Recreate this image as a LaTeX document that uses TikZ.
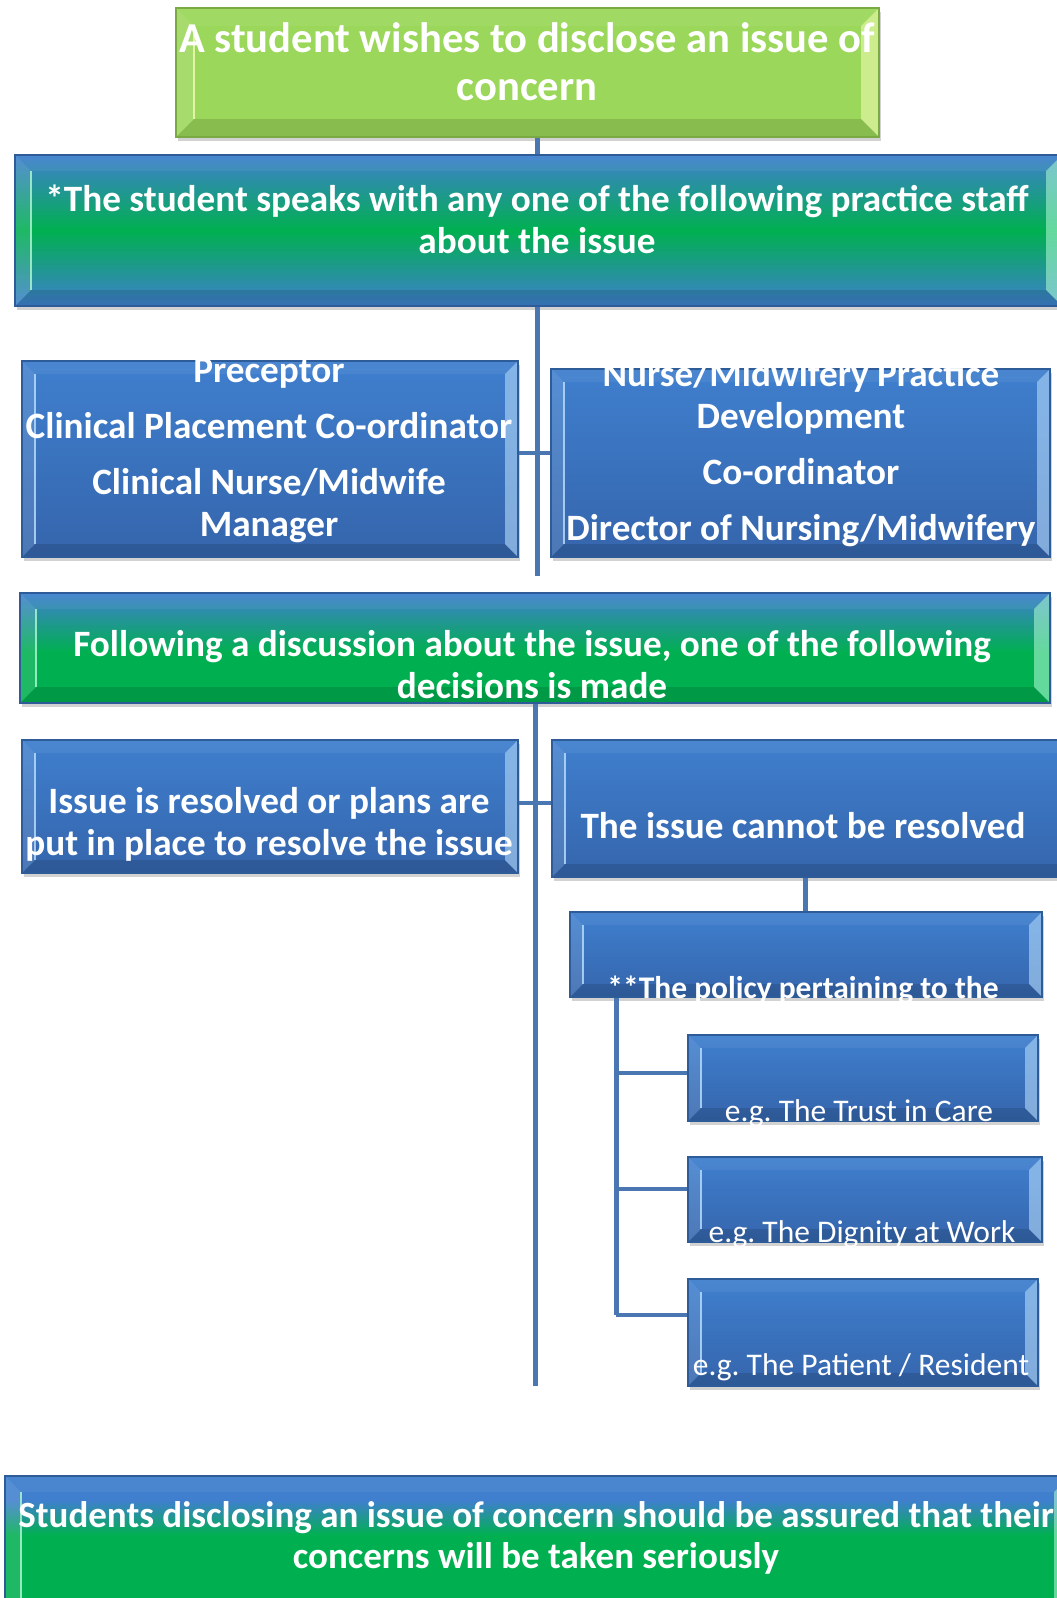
\documentclass[tikz,border=0pt]{standalone}
\usepackage{fontspec}
\setmainfont{Carlito}
\usetikzlibrary{shadows,calc}
\definecolor{cBlueT}{HTML}{3F7FCE}
\definecolor{cBlueB}{HTML}{3565AC}
\definecolor{cBlueEdge}{HTML}{2E5C99}
\definecolor{cBlueLight}{HTML}{B4DAFA}
\definecolor{cGreen}{HTML}{00B050}
\definecolor{cLime}{HTML}{9BD75A}
\definecolor{cLimeEdge}{HTML}{7BAA45}
\definecolor{cLimeLight}{HTML}{EEFAB0}
\definecolor{cGreenLight}{HTML}{A8F5D0}
\definecolor{cLine}{HTML}{4A76B2}
\pgfdeclareverticalshading{shTopBlue}{100bp}{color(0bp)=(cGreen); color(48bp)=(cGreen); color(75bp)=(cBlueT); color(100bp)=(cBlueT)}
\pgfdeclareverticalshading{shBottomBox}{100bp}{color(0bp)=(cGreen); color(58bp)=(cGreen); color(68bp)=(cBlueT); color(100bp)=(cBlueT)}
\pgfdeclareverticalshading{shMidGreen}{100bp}{color(0bp)=(cBlueT); color(25bp)=(cBlueT); color(50bp)=(cGreen); color(75bp)=(cBlueT); color(100bp)=(cBlueT)}
\tikzset{
  bev/.style n args={2}{path picture={
    \path (path picture bounding box.south west) coordinate (bSW)
          (path picture bounding box.north east) coordinate (bNE);
    \path (bSW |- bNE) coordinate (bNW) (bSW -| bNE) coordinate (bSE);
    \fill[white,opacity=0.12] (bSW) -- (bNW) -- ($(bNW)+(#2,-#2)$) -- ($(bSW)+(#2,#2)$) -- cycle;
    \draw[#1,line width=2.5pt,opacity=0.85] ($(bSW)+(#2,#2)$) -- ($(bNW)+(#2,-#2)$);
    \fill[#1,opacity=0.6] (bNE) -- (bSE) -- ($(bSE)+(-#2,#2)$) -- ($(bNE)+(-#2,-#2)$) -- cycle;
    \fill[black,opacity=0.12] (bSW) -- (bSE) -- ($(bSE)+(-#2,#2)$) -- ($(bSW)+(#2,#2)$) -- cycle;
    \fill[white,opacity=0.06] (bNE) -- (bNW) -- ($(bNW)+(#2,-#2)$) -- ($(bNE)+(-#2,-#2)$) -- cycle;
  }},
  shadowed/.style={drop shadow={shadow xshift=2pt,shadow yshift=-4pt,opacity=0.35}},
  boxbase/.style={rectangle,inner sep=0pt,line width=1.2pt,shadowed},
  bluebox/.style={boxbase,draw=cBlueEdge,top color=cBlueT,bottom color=cBlueB,bev={cBlueLight}{13pt}},
  limebox/.style={boxbase,draw=cLimeEdge,fill=cLime,bev={cLimeLight}{18pt}},
  gbbox/.style={boxbase,draw=cBlueEdge,shade,shading=shMidGreen,bev={cGreenLight}{16pt}},
  gtbox/.style={boxbase,draw=cBlueEdge,shade,shading=shTopBlue,bev={cGreenLight}{16pt}},
  gfbox/.style={boxbase,draw=cBlueEdge,shade,shading=shBottomBox,bev={cGreenLight}{16pt}},
  txt/.style={text=white,align=center,inner sep=0pt,font=\bfseries\fontsize{37.2pt}{42pt}\selectfont},
  subtxt/.style={text=white,align=center,inner sep=0pt,font=\fontsize{31.5pt}{36pt}\selectfont},
  conn/.style={draw=cLine,line width=5pt},
  stub/.style={draw=cLine,line width=4pt},
}
\begin{document}
\frenchspacing
\begin{tikzpicture}[x=1pt,y=-1pt]
\useasboundingbox (0,0) rectangle (1057,1598);
\fill[white] (0,0) rectangle (1057,1598);
% trunk positions
\coordinate (tk1) at (537,0);
\coordinate (tk2) at (535,0);
\coordinate (tk3) at (805,0);
\coordinate (tk4) at (616,0);
\coordinate (tk1end) at (537,576);
\coordinate (tk2end) at (535,1386);
\coordinate (tk4end) at (616,1315);
% boxes
\node[limebox,minimum width=703pt,minimum height=129pt] (b1) at (527.5,72.5) {};
\node[gbbox,minimum width=1047pt,minimum height=151pt] (b2) at (538.5,230.5) {};
\node[bluebox,minimum width=496pt,minimum height=196pt] (b3l) at (270,459) {};
\node[bluebox,minimum width=499pt,minimum height=188pt] (b3r) at (800.5,463) {};
\node[gtbox,minimum width=1030pt,minimum height=110pt] (b4) at (535,648) {};
\node[bluebox,minimum width=496pt,minimum height=133pt] (b5l) at (270,806.5) {};
\node[bluebox,minimum width=518pt,minimum height=137pt] (b5r) at (811,808.5) {};
\node[bluebox,minimum width=472pt,minimum height=85pt] (b6) at (806,954.5) {};
\node[bluebox,minimum width=350pt,minimum height=86pt] (b7) at (863,1078) {};
\node[bluebox,minimum width=354pt,minimum height=85pt] (b8) at (865,1199.5) {};
\node[bluebox,minimum width=350pt,minimum height=107pt] (b9) at (863,1332.5) {};
\node[gfbox,minimum width=1065pt,minimum height=174pt] (b10) at (537.5,1563) {};
% connectors
\draw[conn] (b1.south -| tk1) -- (b2.north -| tk1);
\draw[conn] (b2.south -| tk1) -- (tk1end);
\draw[stub] (b3l.east |- 0,453) -- (b3r.west |- 0,453);
\draw[conn] (b4.south -| tk2) -- (tk2end);
\draw[stub] (b5l.east |- 0,803) -- (b5r.west |- 0,803);
\draw[conn] (b5r.south -| tk3) -- (b6.north -| tk3);
\draw[conn] (b6.south -| tk4) -- (tk4end);
\draw[stub] (tk4 |- 0,1073) -- (b7.west |- 0,1073);
\draw[stub] (tk4 |- 0,1189) -- (b8.west |- 0,1189);
\draw[stub] (tk4end) -- (b9.west |- tk4end);
% texts
\node[txt,font=\bfseries\fontsize{42.6pt}{48pt}\selectfont] (t1) at (527,62) {A student wishes to disclose an issue of\\concern};
\node[txt] (t2) at (537,219) {*The student speaks with any one of the following practice staff\\about the issue};
\begin{scope}
\clip (b3l.north west) rectangle (b3l.south east);
\node[txt] (t3l) at (269,451) {Preceptor\\[14pt]Clinical Placement Co-ordinator\\[14pt]Clinical Nurse/Midwife\\Manager};
\end{scope}
\begin{scope}
\clip (b3r.north west) rectangle (b3r.south east);
\node[txt] (t3r) at (801,454) {Nurse/Midwifery Practice\\Development\\[14pt]Co-ordinator\\[14pt]Director of Nursing/Midwifery};
\end{scope}
\node[txt] (t4) at (532,665) {Following a discussion about the issue, one of the following\\decisions is made};
\node[txt] (t5l) at (269,824) {Issue is resolved or plans are\\put in place to resolve the issue};
\node[txt] (t5r) at (803,826) {The issue cannot be resolved};
\node[subtxt,font=\bfseries\fontsize{31.5pt}{36pt}\selectfont] (t6) at (803,990) {**The policy pertaining to the};
\node[subtxt] (t7) at (859,1113) {e.g. The Trust in Care};
\node[subtxt] (t8) at (862,1234) {e.g. The Dignity at Work};
\node[subtxt] (t9) at (861,1367) {e.g. The Patient / Resident};
\node[txt,font=\bfseries\fontsize{37.0pt}{41pt}\selectfont] (t10) at (536,1538) {Students disclosing an issue of concern should be assured that their\\concerns will be taken seriously};
\end{tikzpicture}
\end{document}
